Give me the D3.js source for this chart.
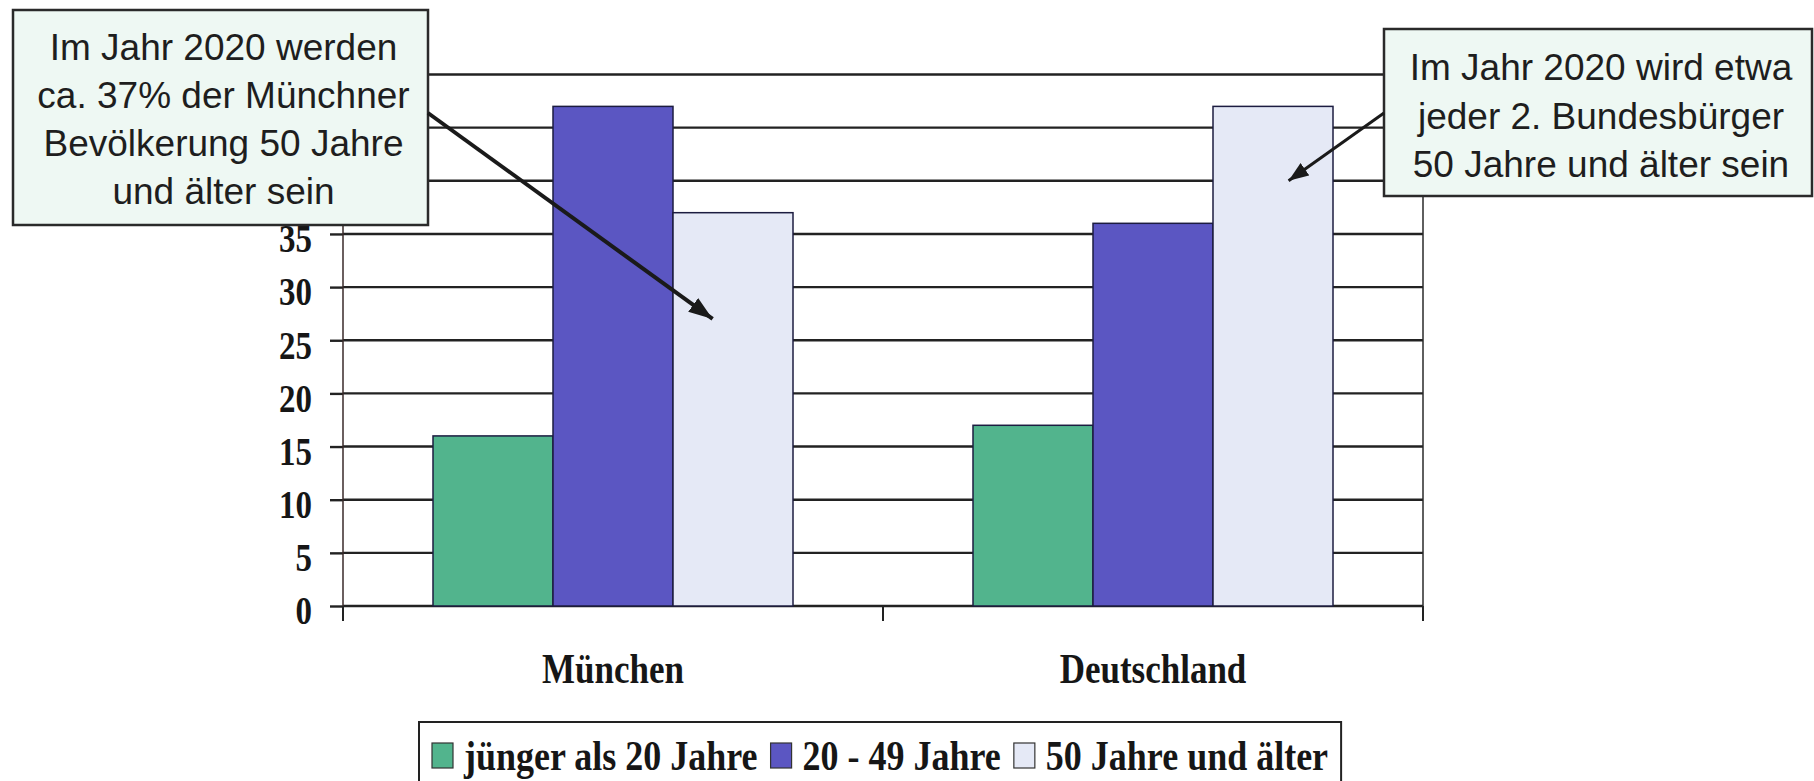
<!DOCTYPE html>
<html>
<head>
<meta charset="utf-8">
<script src="https://cdn.jsdelivr.net/npm/d3@7.9.0/dist/d3.min.js"></script>
<style>
  html, body { margin: 0; background: #fff; }
  svg { display: block; }
</style>
</head>
<body>
<svg id="chart" width="1814" height="781"></svg>
<script>
// ── Data ────────────────────────────────────────────────────────────────────
var categories  = ["München", "Deutschland"];
var seriesNames = ["jünger als 20 Jahre", "20 - 49 Jahre", "50 Jahre und älter"];
var under20     = [16, 17];
var age20to49   = [47, 36];
var over50      = [37, 47];
var yTicks      = [0, 5, 10, 15, 20, 25, 30, 35, 40, 45, 50];
var yLabelMax   = 35;   // labels above are hidden under the left callout

var noteLeft  = ["Im Jahr 2020 werden", "ca. 37% der Münchner", "Bevölkerung 50 Jahre", "und älter sein"];
var noteRight = ["Im Jahr 2020 wird etwa", "jeder 2. Bundesbürger", "50 Jahre und älter sein"];

// ── Layout ──────────────────────────────────────────────────────────────────
var PL = 343, PR = 1423, Y0 = 606, Y50 = 74.5;
var SY = 1.2;     // chart text looks stretched vertically
var SERIF = "'Liberation Serif', 'Times New Roman', serif";
var SANS  = "'Liberation Sans', Arial, sans-serif";
var COLORS = ["#52b48d", "#5b56c2", "#e5e9f6"];

var series = [under20, age20to49, over50];
var keys = d3.range(series.length);

var svg = d3.select("#chart");

var y  = d3.scaleLinear().domain([0, 50]).range([Y0, Y50]);
var x0 = d3.scaleBand().domain(categories).range([PL, PR]);
var x1 = d3.scaleBand().domain(keys).range([0, x0.bandwidth()]).paddingInner(0).paddingOuter(0.75);

function stretchedText(g, x, yy, str, size, family, anchor) {
  return g.append("text")
    .attr("transform", "translate(" + x + "," + yy + ") scale(1," + SY + ")")
    .attr("text-anchor", anchor || "middle")
    .attr("font-family", family)
    .attr("font-weight", "bold")
    .attr("font-size", size + "px")
    .attr("fill", "#161616")
    .text(str);
}

// ── Gridlines ───────────────────────────────────────────────────────────────
svg.append("g").selectAll("line").data(yTicks).join("line")
  .attr("x1", PL).attr("x2", PR)
  .attr("y1", d => y(d)).attr("y2", d => y(d))
  .attr("stroke", "#222").attr("stroke-width", 2.4);

// plot right border
svg.append("line")
  .attr("x1", PR).attr("x2", PR).attr("y1", y(50)).attr("y2", Y0 + 15)
  .attr("stroke", "#2a2a2a").attr("stroke-width", 1.5);

// ── Bars ────────────────────────────────────────────────────────────────────
var groups = svg.append("g").selectAll("g").data(categories).join("g")
  .attr("transform", d => "translate(" + x0(d) + ",0)");

groups.selectAll("rect")
  .data((c, ci) => keys.map(k => ({ k: k, v: series[k][ci] })))
  .join("rect")
  .attr("x", d => x1(d.k))
  .attr("width", x1.bandwidth())
  .attr("y", d => y(d.v))
  .attr("height", d => Y0 - y(d.v))
  .attr("fill", d => COLORS[d.k])
  .attr("stroke", "#1c1c40")
  .attr("stroke-width", 1.5);

// ── Y axis ──────────────────────────────────────────────────────────────────
var yAxis = svg.append("g")
  .attr("transform", "translate(" + PL + ",0)")
  .call(d3.axisLeft(y).tickValues(yTicks).tickSize(13).tickPadding(18));
yAxis.select(".domain").remove();
yAxis.selectAll(".tick line").attr("stroke", "#222").attr("stroke-width", 2.4);
yAxis.selectAll(".tick text").filter(d => d > yLabelMax).remove();
yAxis.selectAll(".tick text")
  .attr("font-family", SERIF).attr("font-weight", "bold").attr("font-size", "33px")
  .attr("fill", "#161616")
  .attr("dy", "0.45em")
  .attr("transform", "scale(1," + SY + ")");

svg.append("line")
  .attr("x1", PL).attr("x2", PL).attr("y1", y(50)).attr("y2", Y0 + 15)
  .attr("stroke", "#3a2a2a").attr("stroke-width", 1.5);

// ── X axis ──────────────────────────────────────────────────────────────────
var xb = categories.map(c => x0(c)).concat([PR]);
svg.append("g").selectAll("line").data(xb).join("line")
  .attr("x1", d => d).attr("x2", d => d)
  .attr("y1", Y0).attr("y2", Y0 + 15)
  .attr("stroke", "#222").attr("stroke-width", 2);

var xl = svg.append("g");
categories.forEach(function (c) {
  stretchedText(xl, x0(c) + x0.bandwidth() / 2, 683, c, 35, SERIF);
});

// ── Legend ──────────────────────────────────────────────────────────────────
var LX = 419, LY = 722;
var leg = svg.append("g");
var legBox = leg.append("rect")
  .attr("x", LX).attr("y", LY).attr("height", 120)
  .attr("fill", "#fff").attr("stroke", "#222").attr("stroke-width", 2);

var cx = LX + 13;
seriesNames.forEach(function (name, i) {
  leg.append("rect")
    .attr("x", cx).attr("y", 743).attr("width", 21).attr("height", 25)
    .attr("fill", COLORS[i]).attr("stroke", "#333").attr("stroke-width", 1.2);
  cx += 21 + 11;
  var t = stretchedText(leg, cx, 770, name, 36, SERIF, "start");
  cx += t.node().getComputedTextLength() + 13;
});
legBox.attr("width", cx - LX);

// ── Callouts ────────────────────────────────────────────────────────────────
var defs = svg.append("defs");
function marker(id, len, wid) {
  defs.append("marker")
    .attr("id", id)
    .attr("markerUnits", "userSpaceOnUse")
    .attr("viewBox", "0 0 " + len + " " + wid)
    .attr("refX", len).attr("refY", wid / 2)
    .attr("markerWidth", len).attr("markerHeight", wid)
    .attr("orient", "auto")
    .append("path")
    .attr("d", "M0,0 L" + len + "," + (wid / 2) + " L0," + wid + " Z")
    .attr("fill", "#1a1a1a");
}
marker("headL", 24, 17);
marker("headR", 20, 15);

var callouts = [
  { lines: noteLeft,  box: [13, 10, 415, 215],  base: 50, step: 48,
    from: [428, 113],  cat: "München",     k: 2, fx: 0.33, v: 27, w: 4,   head: "headL" },
  { lines: noteRight, box: [1384, 29, 428, 167], base: 51, step: 48.5,
    from: [1384, 113], cat: "Deutschland", k: 2, fx: 0.63, v: 40, w: 3,   head: "headR" }
];

callouts.forEach(function (c) {
  var g = svg.append("g");
  var b = c.box;
  g.append("rect")
    .attr("x", b[0]).attr("y", b[1]).attr("width", b[2]).attr("height", b[3])
    .attr("fill", "#eef8f3").attr("stroke", "#2a2a2a").attr("stroke-width", 2.5);
  c.lines.forEach(function (ln, i) {
    g.append("text")
      .attr("x", b[0] + b[2] / 2 + 3).attr("y", b[1] + c.base + i * c.step)
      .attr("text-anchor", "middle")
      .attr("font-family", SANS).attr("font-size", "37px")
      .attr("fill", "#1e1e1e")
      .text(ln);
  });
  var tx = x0(c.cat) + x1(c.k) + x1.bandwidth() * c.fx;
  var ty = y(c.v);
  g.append("line")
    .attr("x1", c.from[0]).attr("y1", c.from[1])
    .attr("x2", tx).attr("y2", ty)
    .attr("stroke", "#1a1a1a").attr("stroke-width", c.w)
    .attr("marker-end", "url(#" + c.head + ")");
});
</script>
</body>
</html>
